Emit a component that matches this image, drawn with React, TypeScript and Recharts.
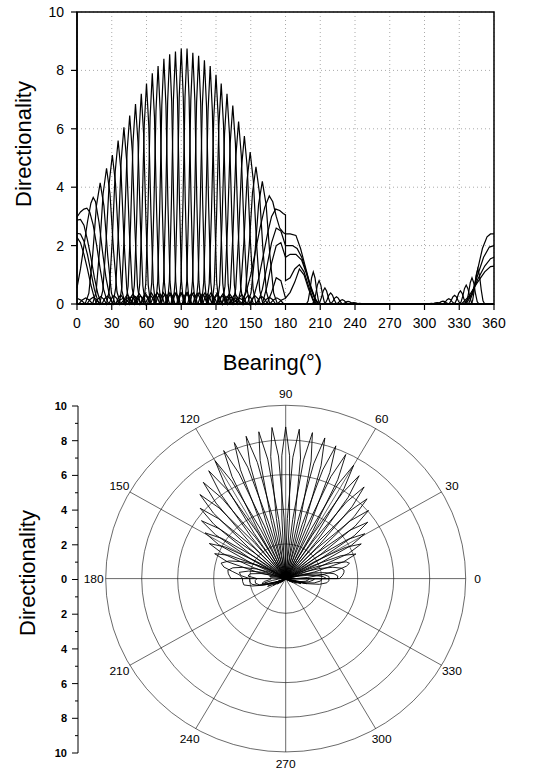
import {
  LineChart,
  Line,
  XAxis,
  YAxis,
  CartesianGrid,
  ReferenceArea,
  RadarChart,
  Radar,
  PolarGrid,
  PolarAngleAxis,
  PolarRadiusAxis,
} from "recharts"

// main beams (peak bearing, peak directionality, half width to first null)
const beamPeakAngles = [20, 25.5, 30.5, 35.5, 40.5, 45.5, 50.5, 55.5, 60, 65, 70, 75, 80, 85, 90, 95, 100, 105, 110, 115, 120, 124.5, 129.5, 134.5, 139.5, 144.5, 149.5, 154.5, 160]
const beamPeaks = [4.15, 4.65, 5.1, 5.6, 6.05, 6.45, 6.85, 7.2, 7.55, 7.9, 8.15, 8.4, 8.55, 8.65, 8.75, 8.75, 8.6, 8.5, 8.35, 8.15, 7.85, 7.55, 7.2, 6.8, 6.25, 5.75, 5.2, 4.7, 4.2]
const beamNullWidths = [13, 12, 11, 10, 9.5, 9, 8.5, 8, 7.8, 7.5, 7.3, 7.1, 7, 7, 7, 7, 7, 7.1, 7.3, 7.5, 7.8, 8, 8.5, 9, 9.5, 10, 11, 12, 13]

const lobeOffsets = [-2, -1.75, -1.5, -1.25, -1, -0.75, -0.5, -0.25, 0, 0.25, 0.5, 0.75, 1, 1.25, 1.5, 1.75, 2]
const lobeLevels = [0, 0.03, 0.045, 0.03, 0, 0.09, 0.4, 0.81, 1, 0.81, 0.4, 0.09, 0, 0.03, 0.045, 0.03, 0]

// beams near 0 and 180 degrees, drawn point by point
const edgeCurves: number[][][] = [
  [[0, 2.98], [3, 3.15], [6, 3.25], [8.5, 3.28], [11, 3.15], [14, 2.7], [17, 2.0], [20, 1.2], [23, 0.5], [26, 0.1], [28, 0]],
  [[0, 0.55], [3, 1.2], [6, 2.0], [9, 2.8], [12, 3.45], [14, 3.65], [16, 3.5], [19, 2.8], [22, 1.8], [25, 0.9], [28, 0.3], [31, 0]],
  [[0, 2.87], [3, 2.9], [6, 2.7], [9, 2.2], [12, 1.6], [15, 0.9], [18, 0.35], [21, 0]],
  [[0, 2.42], [3, 2.4], [6, 2.15], [9, 1.7], [12, 1.1], [15, 0.5], [18, 0.1], [20, 0]],
  [[0, 2.28], [3, 2.1], [6, 1.7], [9, 1.2], [12, 0.65], [15, 0.2], [17, 0]],
  [[150, 0], [153, 0.3], [157, 0.9], [161, 1.7], [165, 2.5], [168, 3.0], [171.5, 3.25], [175, 3.2], [178, 3.1], [180, 3.05], [180, 0.8], [184, 0.9], [188, 1.2], [192, 1.35], [196, 1.1], [200, 0.6], [204, 0.15], [207, 0]],
  [[142, 0], [146, 0.4], [150, 1.0], [154, 1.8], [158, 2.6], [162, 3.3], [166, 3.7], [169, 3.5], [172, 3.0], [175, 2.6], [178, 2.45], [180, 2.4], [184, 2.4], [189, 2.35], [193, 1.9], [197, 1.3], [201, 0.7], [205, 0.25], [208, 0]],
  [[156, 0], [160, 0.5], [164, 1.3], [168, 2.1], [172, 2.6], [176, 2.5], [180, 2.0], [186, 2.0], [190, 1.9], [194, 1.6], [198, 1.1], [202, 0.55], [206, 0.15], [209, 0]],
  [[160, 0], [164, 0.6], [168, 1.4], [172, 2.0], [176, 2.1], [180, 1.6], [184, 1.7], [189, 1.7], [194, 1.5], [198, 1.05], [202, 0.5], [206, 0.1], [209, 0]],
  [[164, 0], [168, 0.4], [172, 0.9], [176, 0.8], [180, 0.2], [184, 0.4], [188, 0.75], [192, 1.2], [196, 1.0], [200, 0.5], [204, 0.1], [206, 0]],
  [[338, 0], [342, 0.4], [346, 1.2], [350, 1.9], [354, 2.3], [357, 2.4], [360, 2.4]],
  [[336, 0], [341, 0.35], [346, 1.0], [351, 1.6], [356, 1.95], [360, 2.0]],
  [[334, 0], [340, 0.3], [346, 0.85], [352, 1.3], [357, 1.55], [360, 1.6]],
  [[332, 0], [338, 0.25], [345, 0.7], [352, 1.1], [357, 1.28], [360, 1.3]],
]

// small back lobes between 200-245 and 300-350
const tailCenters = [204, 209, 214, 219, 224, 229, 234, 239, 244, 306, 311, 316, 321, 326, 331, 336, 341, 346]
const tailPeaks = [1.1, 0.8, 0.55, 0.38, 0.25, 0.15, 0.09, 0.05, 0.02, 0.02, 0.05, 0.1, 0.18, 0.3, 0.45, 0.65, 0.9, 1.2]
const tailWidth = 6

const xTicks = [0, 30, 60, 90, 120, 150, 180, 210, 240, 270, 300, 330, 360]
const yTicks = [0, 2, 4, 6, 8, 10]
const angleTicks = [0, 30, 60, 90, 120, 150, 180, 210, 240, 270, 300, 330]
const radiusTicks = [0, 2, 4, 6, 8, 10]
const sideTicks = [-10, -9, -8, -7, -6, -5, -4, -3, -2, -1, 0, 1, 2, 3, 4, 5, 6, 7, 8, 9, 10]
const sideRange = [{ v: -10 }, { v: 10 }]

const series: { x: number; y: number }[][] = []
beamPeakAngles.forEach((a, i) => {
  series.push(
    lobeOffsets
      .map((u, k) => ({ x: a + u * beamNullWidths[i], y: beamPeaks[i] * lobeLevels[k] }))
      .filter((p) => p.x >= 0 && p.x <= 180)
  )
})
edgeCurves.forEach((c) => series.push(c.map(([x, y]) => ({ x, y }))))
tailCenters.forEach((c, i) => {
  series.push(lobeOffsets.slice(4, 13).map((u, k) => ({ x: c + u * tailWidth, y: tailPeaks[i] * lobeLevels[k + 4] })))
})

// polar rows grouped series by series, cartesian rows sorted by bearing
const polarRows: Record<string, number>[] = []
series.forEach((pts, i) => pts.forEach((p) => polarRows.push({ x: p.x, ["s" + i]: p.y })))
const rows = [...polarRows].sort((a, b) => a.x - b.x)

const FONT = "'Liberation Sans', Arial, sans-serif"

const AngleTick = ({ x, y, payload }: any) =>
  payload.value === 360 ? null : (
    <text x={x} y={y} textAnchor="middle" dy="0.36em" fontSize={12} fontFamily={FONT} fill="#000">
      {payload.value}
    </text>
  )

const SideTick = ({ x, y, payload }: any) => {
  const x0 = x + 8
  const major = payload.value % 2 === 0
  return (
    <g>
      <line x1={x0} x2={x0 - (major ? 6 : 3)} y1={y} y2={y} stroke="#000" strokeWidth={1} />
      {major && (
        <text x={x0 - 11} y={y} dy="0.36em" textAnchor="end" fontSize={11} fontWeight="bold" fontFamily={FONT} fill="#000">
          {Math.abs(payload.value)}
        </text>
      )}
    </g>
  )
}

const TitleLeft = (cx: number, cy: number) => () => (
  <text x={cx} y={cy} transform={`rotate(-90, ${cx}, ${cy})`} textAnchor="middle" dy="0.36em" fontSize={22} fontFamily={FONT} fill="#000">
    Directionality
  </text>
)

export default function App() {
  return (
    <div style={{ position: "absolute", left: 0, top: 0, width: 546, height: 773, background: "#fff", fontFamily: FONT, overflow: "hidden" }}>
      <div style={{ position: "absolute", left: 0, top: 0 }}>
        <LineChart width={546} height={380} data={rows} margin={{ top: 12, right: 52, bottom: 6, left: 19 }}>
          <CartesianGrid stroke="#aaa" strokeDasharray="1 3" />
          <XAxis
            dataKey="x"
            type="number"
            domain={[0, 360]}
            ticks={xTicks}
            interval={0}
            height={70}
            tickSize={6}
            tickMargin={8}
            tick={{ fontSize: 14, fill: "#000", fontFamily: FONT }}
            axisLine={{ stroke: "#000", strokeWidth: 2 }}
            tickLine={{ stroke: "#000", strokeWidth: 1.2 }}
            label={{ value: "Bearing(°)", position: "insideBottom", offset: 4, fontSize: 22, fill: "#000", fontFamily: FONT, dx: -13 }}
          />
          <YAxis
            type="number"
            domain={[0, 10]}
            ticks={yTicks}
            interval={0}
            width={58}
            tickSize={6}
            tickMargin={7}
            tick={{ fontSize: 14, fill: "#000", fontFamily: FONT }}
            axisLine={{ stroke: "#000", strokeWidth: 1.5 }}
            tickLine={{ stroke: "#000", strokeWidth: 1.2 }}
            label={{ content: TitleLeft(23, 144) }}
          />
          <ReferenceArea x1={0} x2={360} y1={0} y2={10} fill="none" stroke="#000" strokeWidth={1.5} ifOverflow="visible" />
          {series.map((_, i) => (
            <Line
              key={i}
              dataKey={"s" + i}
              stroke="#000"
              strokeWidth={1.2}
              dot={false}
              connectNulls
              isAnimationActive={false}
            />
          ))}
        </LineChart>
      </div>

      <div style={{ position: "absolute", left: 0, top: 380 }}>
        <LineChart width={100} height={393} data={sideRange} margin={{ top: 26, right: 0, bottom: 20, left: 0 }}>
          <XAxis dataKey="v" hide />
          <YAxis
            type="number"
            domain={[-10, 10]}
            ticks={sideTicks}
            interval={0}
            width={78}
            tickSize={6}
            tickMargin={2}
            tickLine={false}
            tick={<SideTick />}
            axisLine={{ stroke: "#000", strokeWidth: 1 }}
            label={{ content: TitleLeft(27, 193) }}
          />
          <Line dataKey="v" stroke="none" dot={false} isAnimationActive={false} />
        </LineChart>
      </div>

      <div style={{ position: "absolute", left: 0, top: 386.4, transform: "scaleY(0.963)", transformOrigin: "top left" }}>
        <RadarChart width={546} height={400} data={polarRows} cx={285.7} cy={200} outerRadius={180} startAngle={0} endAngle={360} margin={{ top: 0, right: 0, bottom: 0, left: 0 }}>
          <PolarGrid gridType="circle" stroke="#000" strokeWidth={0.6} />
          <PolarAngleAxis
            dataKey="x"
            type="number"
            domain={[0, 360]}
            ticks={angleTicks as any}
            tickCount={13}
            tickSize={12}
            tickLine={false}
            axisLine={false}
            tick={<AngleTick />}
          />
          <PolarRadiusAxis type="number" domain={[0, 10]} ticks={radiusTicks as any} tickCount={6} tick={false} axisLine={false} />
          {series.map((_, i) => (
            <Radar
              key={i}
              dataKey={"s" + i}
              stroke="#000"
              strokeWidth={0.9}
              fill="none"
              fillOpacity={0}
              dot={false}
              isAnimationActive={false}
            />
          ))}
        </RadarChart>
      </div>
    </div>
  )
}
